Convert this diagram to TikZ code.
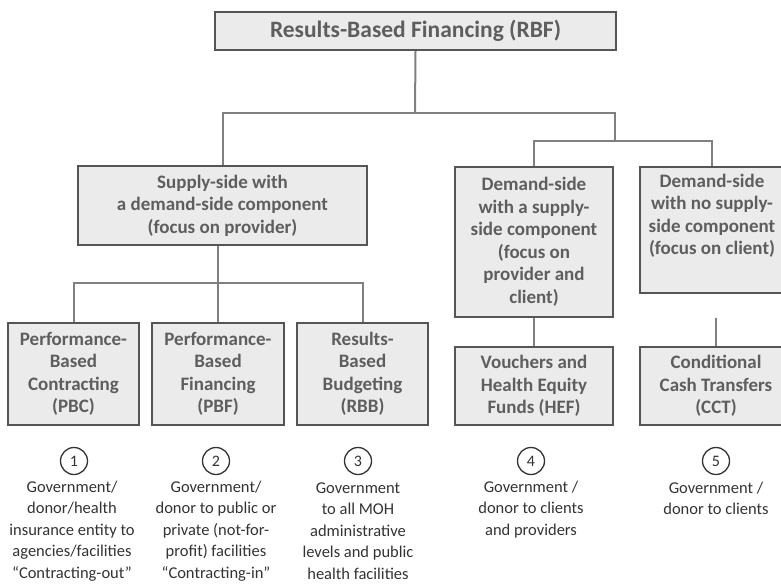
\documentclass[tikz,border=0pt]{standalone}
\usepackage{fontspec}
\setmainfont{Carlito}
\definecolor{boxfill}{HTML}{EBEBEB}
\definecolor{boxline}{HTML}{555555}
\definecolor{boxtext}{HTML}{5E5E5E}
\definecolor{connline}{HTML}{808080}
\definecolor{desctext}{HTML}{333333}
\tikzset{
  box/.style={draw=boxline, fill=boxfill, line width=2.2pt, text=boxtext,
    font=\fontsize{19}{22.5}\selectfont\bfseries, align=center, inner sep=0pt},
  conn/.style={draw=connline, line width=2pt},
  numc/.style={circle, draw=desctext, line width=1.3pt, minimum size=27pt, inner sep=0pt,
    text=desctext, font=\fontsize{16}{18}\selectfont},
  desc/.style={text=desctext, align=center, inner sep=0pt,
    font=\fontsize{16.5}{21.5}\selectfont}
}
\begin{document}
\begin{tikzpicture}[x=1pt,y=-1pt]
\useasboundingbox (0,0) rectangle (781,586);
\clip (0,0) rectangle (781,586);
\fill[white] (0,0) rectangle (781,586);
% boxes
\node[box, minimum width=401pt, minimum height=38pt, font=\fontsize{23.5}{26}\selectfont\bfseries] (top) at (415.5,31) {Results-Based Financing (RBF)};
\node[box, minimum width=289pt, minimum height=79pt] (sup) at (222.5,205.5) {Supply-side with\\a demand-side component\\(focus on provider)};
\node[box, minimum width=158pt, minimum height=150pt] (d1) at (534,242) {Demand-side\\with a supply-\\side component\\(focus on\\provider and\\client)};
\node[box, minimum width=144pt, minimum height=126pt] (d2) at (712,230) {};
\node[box, draw=none, fill=none, anchor=north] (d2t) at (712,173) {Demand-side\\with no supply-\\side component\\(focus on client)};
\node[box, minimum width=131pt, minimum height=102pt] (pbc) at (73.5,374) {Performance-\\Based\\Contracting\\(PBC)};
\node[box, minimum width=132pt, minimum height=102pt] (pbf) at (218,374) {Performance-\\Based\\Financing\\(PBF)};
\node[box, minimum width=131pt, minimum height=102pt] (rbb) at (362.5,374) {Results-\\Based\\Budgeting\\(RBB)};
\node[box, minimum width=158pt, minimum height=78pt] (vou) at (534,386) {Vouchers and\\Health Equity\\Funds (HEF)};
\node[box, minimum width=152pt, minimum height=78pt] (cct) at (716,386) {Conditional\\Cash Transfers\\(CCT)};
% connectors
\coordinate (j1) at (415,113);
\coordinate (j2) at (615,141);
\coordinate (j3) at (218,283);
\coordinate (c5) at (716,318);
\draw[conn] (top.south) -- (j1);
\draw[conn] (sup.north) |- (j1) -| (j2);
\draw[conn] (d1.north) |- (j2) -| (d2.north);
\draw[conn] (sup.south -| j3) -- (pbf.north);
\draw[conn] (pbc.north) |- (j3) -| (rbb.north);
\draw[conn] (d1.south) -- (vou.north);
\draw[conn] (c5) -- (cct.north);
% numbered circles
\node[numc] (n1) at (74,461) {1};
\node[numc] (n2) at (216,461) {2};
\node[numc] (n3) at (358,461) {3};
\node[numc] (n4) at (531,461) {4};
\node[numc] (n5) at (716,461) {5};
% descriptions
\node[desc] (t1) at (72,531) {Government/\\donor/health\\insurance entity to\\agencies/facilities\\“Contracting-out”};
\node[desc] (t2) at (216,531) {Government/\\donor to public or\\private (not-for-\\profit) facilities\\“Contracting-in”};
\node[desc] (t3) at (358,531) {Government\\to all MOH\\administrative\\levels and public\\health facilities};
\node[desc] (t4) at (531,509.5) {Government /\\donor to clients\\and providers};
\node[desc] (t5) at (716,498.5) {Government /\\donor to clients};
\end{tikzpicture}
\end{document}
